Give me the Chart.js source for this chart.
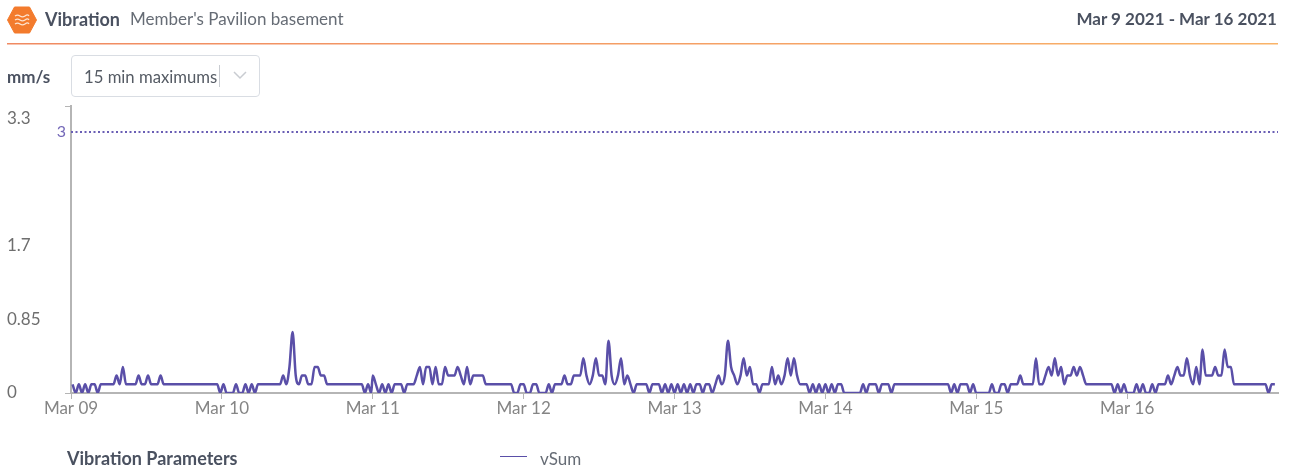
<!DOCTYPE html>
<html>
<head>
<meta charset="utf-8">
<title>Vibration</title>
<script src="https://cdn.jsdelivr.net/npm/chart.js@4"></script>
<style>
  html, body { margin: 0; padding: 0; background: #fff; width: 1290px; height: 468px; overflow: hidden; font-family: Lato, sans-serif; }
  .abs { position: absolute; white-space: nowrap; }
  #chartWrap { position: absolute; left: 0; top: 0; width: 1290px; height: 468px; }
  .selectBox { left: 71px; top: 55px; width: 187px; height: 40px; border: 1px solid #d9dde3; border-radius: 4px; }
</style>
</head>
<body>
<div id="chartWrap"><canvas id="vibrationChart" width="1290" height="468"></canvas></div>

<svg class="abs" style="left:7px;top:6px" width="30" height="28" viewBox="0 0 30 28">
  <polygon points="7.5,1 22.5,1 29.5,14 22.5,27 7.5,27 0.5,14" fill="#f37b2d" stroke="#f37b2d" stroke-linejoin="round"/>
  <path d="M8 10c2-1.5 3-1.5 5 0s3 1.5 5 0 3-1.500 4 0M8 14c2-1.500 3-1.500 5 0s3 1.500 5 0 3-1.500 4 0M8 18c2-1.500 3-1.500 5 0s3 1.500 5 0 3-1.500 4 0" fill="none" stroke="#fde3cf" stroke-width="1.300"/>
</svg>
<div class="abs" style="left:45px;top:8px;font-size:18px;font-weight:700;color:#4a5160">Vibration</div>
<div class="abs" style="left:130px;top:8px;font-size:17px;color:#666c75">Member's Pavilion basement</div>
<div class="abs" style="right:13px;top:8px;font-size:17px;font-weight:700;color:#4a5160">Mar 9 2021 - Mar 16 2021</div>
<svg class="abs" style="left:7px;top:42px" width="1271" height="3">
  <defs><linearGradient id="ruleFade"><stop offset="0" stop-color="#f08a62"/><stop offset="1" stop-color="#f9b368"/></linearGradient></defs>
  <rect x="0" y="1" width="1271" height="1.500" fill="url(#ruleFade)"/>
</svg>

<div class="abs" style="left:7px;top:66px;font-size:17px;font-weight:700;color:#4a5160">mm/s</div>
<div class="abs selectBox"></div>
<div class="abs" style="left:84px;top:67px;font-size:16.700px;color:#555b64">15 min maximums</div>
<div class="abs" style="left:219px;top:65px;width:1px;height:22px;background:#c9ccd1"></div>
<svg class="abs" style="left:233px;top:71px" width="14" height="9"><path d="M1 1l6 6 6-6" fill="none" stroke="#c9ccd1" stroke-width="1.500"/></svg>

<div class="abs" style="left:67px;top:447px;font-size:18px;font-weight:700;color:#4a5160">Vibration Parameters</div>
<div class="abs" style="left:500px;top:456px;width:27px;height:1px;background:#5a4fa8"></div>
<div class="abs" style="left:540px;top:448px;font-size:17px;color:#666c75">vSum</div>

<script>
// half hourly readings, mm/s
const mar09 = [.1,0,.1,0,.1,0,.1,.1,0,.1, .1,.1,.1,.1,.2,.1,.3,.1,.1,.1, .1,.2,.1,.1,.2,.1,.1,.1,.2,.1, .1,.1,.1,.1,.1,.1,.1,.1,.1,.1, .1,.1,.1,.1,.1,.1,.1,0];
const mar10 = [.1,0,0,0,.1,0,0,.1,0,.1, 0,.1,.1,.1,.1,.1,.1,.1,.1,.2, .1,.3,.7,.2,.1,.2,.2,.1,.1,.3, .3,.2,.2,.1,.1,.1,.1,.1,.1,.1, .1,.1,.1,.1,.1,0,.1,0];
const mar11 = [.2,.1,0,.1,0,.1,0,.1,.1,.1, 0,.1,.1,.1,.2,.3,.1,.3,.3,.1, .3,.1,.1,.3,.2,.2,.2,.3,.2,.1, .3,.1,.2,.2,.2,.2,.1,.1,.1,.1, .1,.1,.1,.1,.1,0,0,.1];
const mar12 = [.1,0,0,.1,.1,0,0,0,.1,0, .1,.1,.1,.2,.1,.1,.2,.2,.2,.4, .2,.1,.2,.4,.2,.2,.1,.6,.2,.1, .2,.4,.1,.2,.1,0,.1,.1,.1,.1, 0,.1,.1,.1,0,.1,0,.1];
const mar13 = [0,.1,0,.1,0,.1,0,.1,.1,0, .1,.1,0,.1,.2,.1,.2,.6,.3,.2, .1,.2,.4,.2,.3,.1,.1,0,.1,.1, .1,.3,.1,.2,.1,.2,.4,.2,.4,.2, .1,.1,.1,0,.1,0,.1,0];
const mar14 = [.1,0,.1,0,.1,.1,0,0,0,0, 0,0,.1,0,.1,.1,.1,0,.1,.1, .1,0,.1,.1,.1,.1,.1,.1,.1,.1, .1,.1,.1,.1,.1,.1,.1,.1,.1,.1, 0,.1,0,.1,.1,.1,0,.1];
const mar15 = [0,0,0,0,0,.1,0,0,.1,.1, 0,.1,.1,.1,.2,.1,.1,.1,.1,.4, .1,.1,.2,.3,.2,.4,.2,.3,.1,.2, .2,.3,.2,.3,.2,.1,.1,.1,.1,.1, .1,.1,.1,.1,0,.1,0,.1];
const mar16 = [0,0,0,.1,0,.1,0,0,.1,0, .1,.1,.1,.2,.1,.2,.3,.2,.2,.4, .2,.1,.3,.1,.5,.2,.2,.2,.3,.2, .2,.5,.3,.3,.1,.1,.1,.1,.1,.1, .1,.1,.1,.1,.1,0,.1,.1];
const days = [mar09, mar10, mar11, mar12, mar13, mar14, mar15, mar16];
// first two days read a quarter hour later than the others
const firstReadingSlot = [0.5, 0.5, 0, 0, 0, 0, 0, 0];

const dayLabels = ['Mar 09', 'Mar 10', 'Mar 11', 'Mar 12', 'Mar 13', 'Mar 14', 'Mar 15', 'Mar 16'];
const yTicks = [0, 0.85, 1.7, 3.3];
const limitValue = 3;

const vSumPoints = [];
days.forEach(function(day, d) {
    day.forEach(function(v, i) {
        vSumPoints.push({ x: d + (i + firstReadingSlot[d]) / day.length, y: v });
    });
});

const purple = '#5a4fa8';

// the "3" next to the dotted limit line
const limitLabel = {
    id: 'limitLabel',
    afterDraw: function(chart) {
        const c = chart.ctx;
        c.save();
        c.font = '16px Lato';
        c.fillStyle = '#7468b8';
        c.textAlign = 'right';
        c.textBaseline = 'middle';
        c.fillText(String(limitValue), chart.scales.x.left - 5, chart.scales.y.getPixelForValue(limitValue));
        c.restore();
    }
};

new Chart(document.getElementById('vibrationChart').getContext('2d'), {
    type: 'line',
    plugins: [limitLabel],
    data: {
        datasets: [
            {
                label: 'vSum',
                data: vSumPoints,
                borderColor: purple,
                borderWidth: 2.5,
                pointRadius: 0,
                cubicInterpolationMode: 'monotone'
            },
            {
                label: 'limit',
                data: [{ x: 0, y: limitValue }, { x: days.length, y: limitValue }],
                borderColor: '#6a5fb5',
                borderWidth: 2,
                borderDash: [2, 2.5],
                pointRadius: 0
            }
        ]
    },
    options: {
        responsive: false,
        animation: false,
        layout: { padding: { left: 7, right: 12, top: 106, bottom: 45 } },
        plugins: { legend: { display: false }, tooltip: { enabled: false } },
        scales: {
            x: {
                type: 'linear',
                min: 0,
                max: days.length,
                afterBuildTicks: function(axis) {
                    axis.ticks = dayLabels.map(function(_, i) { return { value: i }; });
                },
                afterFit: function(axis) { axis.height = 30; },
                border: { color: '#b5b5b5', width: 2 },
                grid: { drawOnChartArea: false, tickLength: 6, tickColor: '#b5b5b5' },
                ticks: {
                    autoSkip: false,
                    maxRotation: 0,
                    padding: -1,
                    color: '#858585',
                    font: { family: 'Lato', size: 17 },
                    callback: function(v) { return dayLabels[v]; }
                }
            },
            y: {
                min: 0,
                max: 3.3,
                afterBuildTicks: function(axis) {
                    axis.ticks = yTicks.map(function(v) { return { value: v }; });
                },
                afterFit: function(axis) { axis.width = 64; },
                border: { color: '#b5b5b5', width: 2 },
                grid: {
                    drawOnChartArea: false,
                    tickLength: 6,
                    tickColor: function(ctx) {
                        return ctx.tick.value === 0 || ctx.tick.value === 3.3 ? '#b5b5b5' : 'transparent';
                    }
                },
                ticks: {
                    crossAlign: 'far',
                    color: '#6e6e6e',
                    font: { family: 'Lato', size: 17, lineHeight: '26px' },
                    callback: function(v) { return v === 3.3 ? ['', '3.3'] : String(v); }
                }
            }
        }
    }
});
</script>
</body>
</html>
